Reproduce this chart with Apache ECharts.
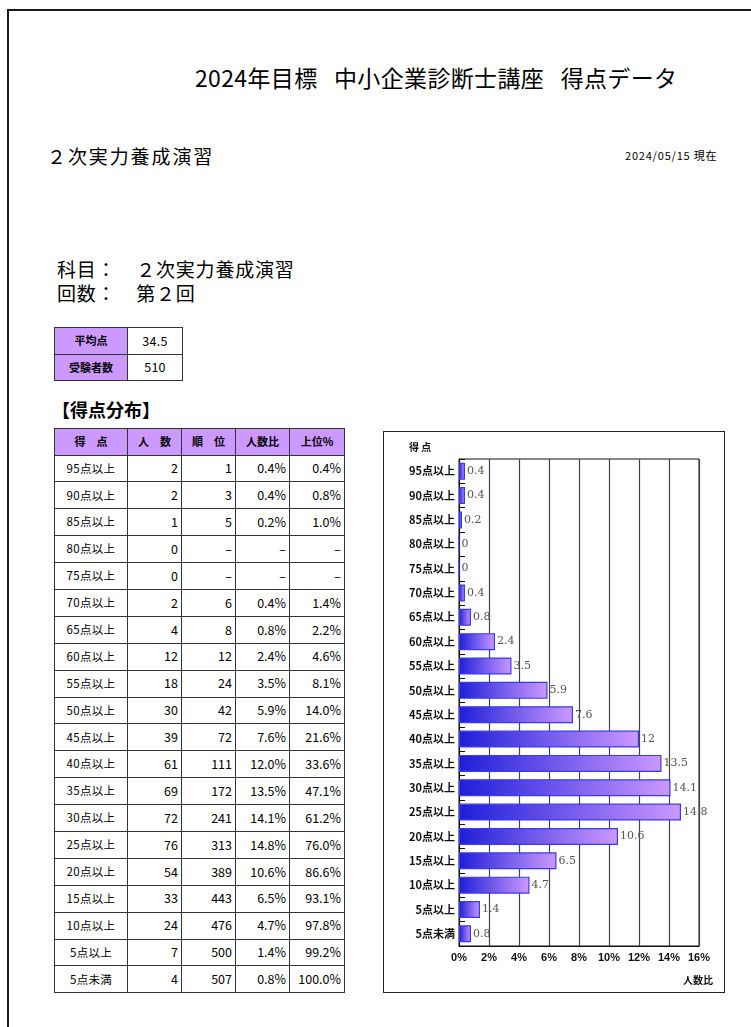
<!DOCTYPE html>
<html>
<head>
<meta charset="utf-8">
<script src="https://cdn.jsdelivr.net/npm/echarts@6/dist/echarts.min.js"></script>
<style>
  html, body { margin:0; padding:0; background:#fff; }
  body { width:751px; height:1027px; overflow:hidden; position:relative; font-family:"Noto Sans CJK JP","Noto Sans",sans-serif; color:#000; }
  .abs { position:absolute; white-space:pre; line-height:1; }
  #page { position:absolute; left:7px; top:9px; width:900px; height:1100px; border:2px solid #1a1a1a; box-sizing:border-box; }
  table { border-collapse:collapse; position:absolute; table-layout:fixed; }
  td, th { border:1px solid #333; padding:0; font-size:12px; line-height:1; box-sizing:border-box; }
  th { background:#cc99ff; font-weight:bold; font-size:11px; text-align:center; }
  td.c { text-align:center; font-size:11.5px; letter-spacing:0.3px; }
  td.n { text-align:right; padding-right:3px; font-size:12.5px; }
  #chartBox { position:absolute; left:383px; top:431px; width:342px; height:562px; border:1px solid #222; box-sizing:border-box; }
  #chart { width:340px; height:560px; }
</style>
</head>
<body>
<div id="page"></div>
<div class="abs" style="left:195px;top:66px;font-size:23px;letter-spacing:0.35px;">2024年目標   中小企業診断士講座   得点データ</div>
<div class="abs" style="left:47px;top:146px;font-size:19px;letter-spacing:1.9px;">２次実力養成演習</div>
<div class="abs" style="left:625px;top:150px;font-size:11px;letter-spacing:0.8px;">2024/05/15 現在</div>
<div class="abs" style="left:57px;top:259px;font-size:19px;letter-spacing:0.8px;">科目：　２次実力養成演習</div>
<div class="abs" style="left:57px;top:283px;font-size:19px;letter-spacing:0.8px;">回数：　第２回</div>
<table id="summary" style="left:54px;top:327px;width:128px;"></table>
<div class="abs" style="left:52px;top:400px;font-size:18px;font-weight:bold;">【得点分布】</div>
<table id="dist" style="left:54px;top:428px;width:290px;"></table>
<div id="chartBox"><div id="chart"></div></div>
<script>
// ---- data ----
var categories = ['95点以上','90点以上','85点以上','80点以上','75点以上','70点以上','65点以上','60点以上','55点以上','50点以上','45点以上','40点以上','35点以上','30点以上','25点以上','20点以上','15点以上','10点以上','5点以上','5点未満'];
var counts = [2,2,1,0,0,2,4,12,18,30,39,61,69,72,76,54,33,24,7,4];
var ranks = [1,3,5,null,null,6,8,12,24,42,72,111,172,241,313,389,443,476,500,507];
var ratios = [0.4,0.4,0.2,0,0,0.4,0.8,2.4,3.5,5.9,7.6,12.0,13.5,14.1,14.8,10.6,6.5,4.7,1.4,0.8];
var topPct = [0.4,0.8,1.0,null,null,1.4,2.2,4.6,8.1,14.0,21.6,33.6,47.1,61.2,76.0,86.6,93.1,97.8,99.2,100.0];
var headers = ['得　点','人　数','順　位','人数比','上位%'];
var summaryLabels = ['平均点','受験者数'];
var summaryValues = ['34.5','510'];
var xTicks = [0,2,4,6,8,10,12,14,16];

// ---- summary table ----
var s = document.getElementById('summary');
var sh = '<colgroup><col style="width:73px"><col style="width:55px"></colgroup>';
for (var i = 0; i < summaryLabels.length; i++) {
  sh += '<tr style="height:26.5px"><th>' + summaryLabels[i] + '</th><td class="c" style="font-size:12.5px">' + summaryValues[i] + '</td></tr>';
}
s.innerHTML = sh;

// ---- distribution table ----
var d = document.getElementById('dist');
var h = '<colgroup><col style="width:73px"><col style="width:54px"><col style="width:54px"><col style="width:54px"><col style="width:55px"></colgroup>';
h += '<tr style="height:26.5px">' + headers.map(function(x){return '<th>'+x+'</th>';}).join('') + '</tr>';
var dash = '–';
for (var i = 0; i < categories.length; i++) {
  h += '<tr style="height:26.9px"><td class="c">' + categories[i] + '</td>' +
       '<td class="n">' + counts[i] + '</td>' +
       '<td class="n">' + (ranks[i] == null ? dash : ranks[i]) + '</td>' +
       '<td class="n">' + (counts[i] === 0 ? dash : ratios[i].toFixed(1) + '%') + '</td>' +
       '<td class="n">' + (topPct[i] == null ? dash : topPct[i].toFixed(1) + '%') + '</td></tr>';
}
d.innerHTML = h;

// ---- chart ----
var chart = echarts.init(document.getElementById('chart'), null, {renderer:'canvas'});
chart.setOption({
  animation: false,
  backgroundColor: '#fff',
  grid: { left:75, top:27, width:240, height:487, show:true, borderColor:'#111', borderWidth:1, backgroundColor:'transparent' },
  xAxis: {
    type:'value', min:xTicks[0], max:xTicks[xTicks.length-1], interval:2,
    axisLine:{ show:true, lineStyle:{ color:'#111', width:1 } },
    axisTick:{ show:false },
    axisLabel:{ formatter:'{value}%', color:'#111', fontSize:11, fontWeight:'bold', margin:6, fontFamily:'Liberation Sans' },
    splitLine:{ show:true, lineStyle:{ color:'#444', width:1.2 } }
  },
  yAxis: {
    type:'category', data:categories, inverse:true,
    axisLine:{ show:true, lineStyle:{ color:'#111', width:1 } },
    axisTick:{ show:true, inside:true, length:6, lineStyle:{ color:'#111' } },
    axisLabel:{ color:'#111', fontSize:11, fontWeight:'bold', margin:4, fontFamily:'Noto Sans CJK JP' },
    splitLine:{ show:false }
  },
  graphic: [
    { type:'text', left:25, top:10, style:{ text:'得 点', fontSize:10, fontWeight:'bold', fill:'#111', fontFamily:'Noto Sans CJK JP' } },
    { type:'text', left:299, top:543, style:{ text:'人数比', fontSize:10, fontWeight:'bold', fill:'#111', fontFamily:'Noto Sans CJK JP' } }
  ],
  series: [{
    type:'bar', data:ratios, barWidth:17,
    itemStyle:{
      color: new echarts.graphic.LinearGradient(0,0,1,0,[{offset:0,color:'#1e1ed8'},{offset:1,color:'#cc99ff'}]),
      borderColor:'#3a3af5', borderWidth:1.2
    },
    label:{ show:true, position:'right', distance:2, color:'#555', fontSize:11, fontFamily:'DejaVu Serif' }
  }]
});
</script>
</body>
</html>
